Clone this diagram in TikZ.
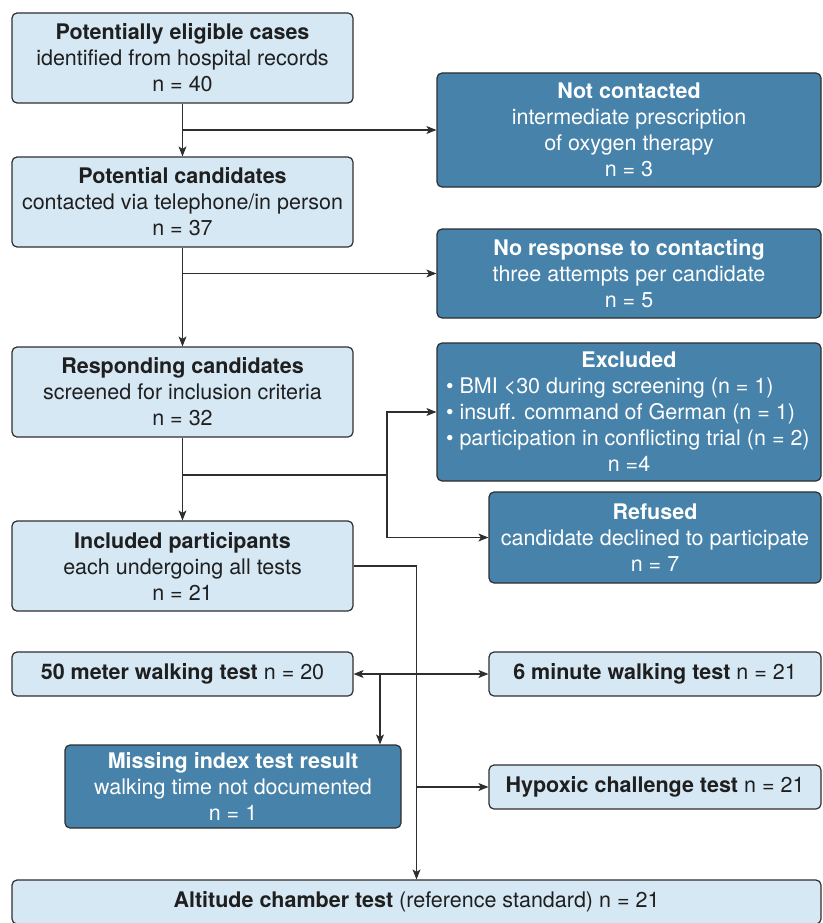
\documentclass[tikz,border=0pt]{standalone}
\usepackage{fontspec}
\setmainfont{TeX Gyre Heros}
\usetikzlibrary{positioning,calc,arrows.meta}

\definecolor{boxlight}{HTML}{D5E8F4}
\definecolor{boxdark}{HTML}{4682A9}
\definecolor{edgegray}{HTML}{2E2E2E}

% left-aligned bullet line of fixed width
\newcommand{\bulline}[1]{\makebox[366pt][l]{•\ #1}}

\begin{document}
\begin{tikzpicture}[x=1pt,y=-1pt,
    box/.style={rectangle, rounded corners=5pt, draw=edgegray, line width=1.2pt,
        align=center, inner sep=0pt, font=\fontsize{21.5}{26}\selectfont},
    lightbox/.style={box, fill=boxlight, text=black!88},
    darkbox/.style={box, fill=boxdark, text=white},
    arr/.style={-{Stealth[length=10pt,width=8pt,inset=2.5pt]}, line width=1.1pt, draw=edgegray},
    link/.style={line width=1.1pt, draw=edgegray}]
    \useasboundingbox (0,0) rectangle (822,923);

    % Recruitment (left column)
    \node[lightbox, minimum width=341pt, minimum height=90pt] (elig) at (182.5,58)
        {\textbf{Potentially eligible cases}\\identified from hospital records\\n = 40};
    \node[lightbox, minimum width=341pt, minimum height=90pt] (cand) at (182.5,202)
        {\textbf{Potential candidates}\\contacted via telephone/in person\\n = 37};
    \node[lightbox, minimum width=341pt, minimum height=90pt] (resp) at (182.5,392)
        {\textbf{Responding candidates}\\screened for inclusion criteria\\n = 32};
    \node[lightbox, minimum width=341pt, minimum height=90pt] (incl) at (182.5,566)
        {\textbf{Included participants}\\each undergoing all tests\\n = 21};

    % Drop-outs (right column)
    \node[darkbox, minimum width=384pt, minimum height=114pt] (notc) at (629,130)
        {\textbf{Not contacted}\\intermediate prescription\\of oxygen therapy\\n = 3};
    \node[darkbox, minimum width=384pt, minimum height=89pt] (nores) at (629,273.5)
        {\textbf{No response to contacting}\\three attempts per candidate\\n = 5};
    \node[darkbox, minimum width=384pt, minimum height=138pt] (excl) at (629,412)
        {\textbf{Excluded}\\
         \bulline{BMI <30 during screening (n = 1)}\\
         \bulline{insuff. command of German (n = 1)}\\
         \bulline{participation in conflicting trial (n = 2)}\\
         n =4};
    \node[darkbox, minimum width=332pt, minimum height=91pt] (refu) at (655,537.5)
        {\textbf{Refused}\\candidate declined to participate\\n = 7};

    % Tests
    \node[lightbox, minimum width=341pt, minimum height=44pt] (fifty) at (182.5,674)
        {\textbf{50 meter walking test} n = 20};
    \node[lightbox, minimum width=332pt, minimum height=44pt] (six) at (655,674)
        {\textbf{6 minute walking test} n = 21};
    \node[darkbox, minimum width=336pt, minimum height=83pt] (miss) at (233,786.5)
        {\textbf{Missing index test result}\\walking time not documented\\n = 1};
    \node[lightbox, minimum width=332pt, minimum height=44pt] (hypo) at (655,787)
        {\textbf{Hypoxic challenge test} n = 21};
    \node[lightbox, minimum width=809pt, minimum height=44pt] (alti) at (416.5,902)
        {\textbf{Altitude chamber test} (reference standard) n = 21};

    % Flow
    \draw[arr] (elig) -- (cand);
    \draw[arr] (elig.south |- notc.west) -- (notc.west);
    \draw[arr] (cand) -- (resp);
    \draw[arr] (cand.south |- nores.west) -- (nores.west);
    \draw[arr] (resp) -- (incl);
    \coordinate (split) at (387,475);
    \draw[link] (resp.south |- split) -- (split);
    \draw[arr] (split) |- (excl.west);
    \draw[arr] (split) |- (refu.west);

    % Test branches
    \draw[arr] (incl.east) -| (alti.north);
    \coordinate (tj) at (alti.north |- fifty.east);
    \coordinate (mj) at (380,674);
    \draw[arr] (tj) -- (fifty.east);
    \draw[arr] (tj) -- (six.west);
    \draw[arr] (mj) -- (mj |- miss.north);
    \draw[arr] (alti.north |- hypo.west) -- (hypo.west);
\end{tikzpicture}
\end{document}
